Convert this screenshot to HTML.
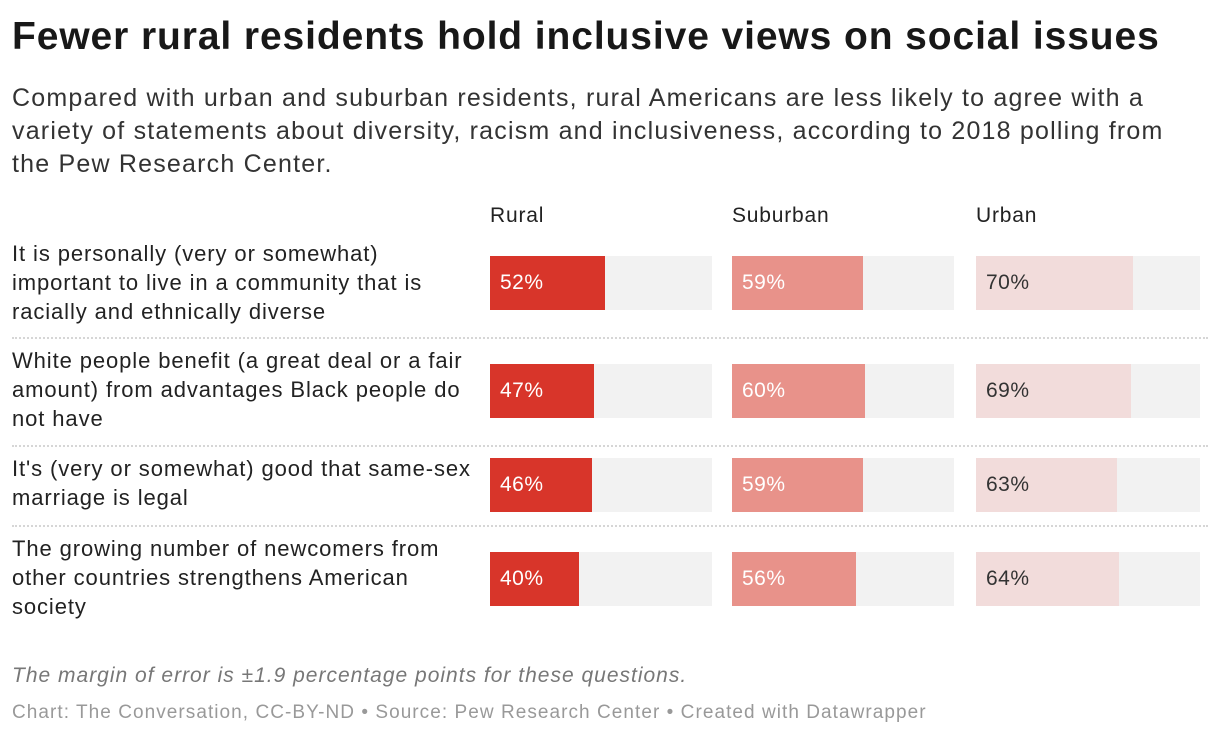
<!DOCTYPE html>
<html><head><meta charset="utf-8">
<style>
body{margin:0;width:1220px;height:738px;background:#fff;font-family:"Liberation Sans",sans-serif;color:#181818;position:relative;overflow:hidden}
.abs{position:absolute}
h1{position:absolute;left:12px;top:15px;margin:0;font-size:39px;font-weight:bold;letter-spacing:0.9px;white-space:nowrap}
.sub{left:12px;top:82px;font-size:25px;line-height:33px;color:#333;width:1210px;letter-spacing:1.2px;white-space:nowrap}
.hdr{font-size:21px;top:204px;color:#222;letter-spacing:0.8px}
.lab{left:12px;font-size:22px;line-height:29px;width:480px;color:#222;letter-spacing:0.9px;white-space:nowrap}
.sep{left:12px;width:1196px;height:0;border-top:2px dotted #d6d6d6}
.note{left:12px;top:664px;font-size:21px;font-style:italic;color:#777;letter-spacing:1px;white-space:nowrap}
.cred{left:12px;top:702px;font-size:19px;color:#999;letter-spacing:1.05px;white-space:nowrap}
</style></head><body>
<h1>Fewer rural residents hold inclusive views on social issues</h1>
<div class="abs sub">Compared with urban and suburban residents, rural Americans are less likely to agree with a<br>variety of statements about diversity, racism and inclusiveness, according to 2018 polling from<br>the Pew Research Center.</div>
<div id="chart"></div>
<div class="abs note">The margin of error is ±1.9 percentage points for these questions.</div>
<div class="abs cred">Chart: The Conversation, CC-BY-ND • Source: Pew Research Center • Created with Datawrapper</div>
<script>
const categories=["It is personally (very or somewhat)\nimportant to live in a community that is\nracially and ethnically diverse","White people benefit (a great deal or a fair\namount) from advantages Black people do\nnot have","It's (very or somewhat) good that same-sex\nmarriage is legal","The growing number of newcomers from\nother countries strengthens American\nsociety"];
const seriesNames=["Rural","Suburban","Urban"];
const rural=[52,47,46,40];
const suburban=[59,60,59,56];
const urban=[70,69,63,64];
const series=[rural,suburban,urban];
const colors=["#d8352a","#e8928a","#f2dcdb"];
const textColors=["#fff","#fff","#333"];
const colX=[490,732,976], colW=[222,222,224];
const barTop=[256,364,458,552], barH=54;
const labTop=[239,346,454,534];
const sepY=[337,445,525];
const c=document.getElementById('chart');
function x(col,v){return colW[col]*v/100;}
seriesNames.forEach((n,j)=>{
 const d=document.createElement('div');d.className='abs hdr';d.style.left=colX[j]+'px';d.textContent=n;
 
 
 c.appendChild(d);
});
categories.forEach((cat,i)=>{
 const l=document.createElement('div');l.className='abs lab';l.style.top=labTop[i]+'px';l.innerHTML=cat.split('\n').join('<br>');
 
 
 c.appendChild(l);
 series.forEach((s,j)=>{
  const t=document.createElement('div');t.className='abs';
  t.style.cssText=`left:${colX[j]}px;top:${barTop[i]}px;width:${colW[j]}px;height:${barH}px;background:#f2f2f2`;
  
  
  c.appendChild(t);
  const b=document.createElement('div');b.className='abs';
  b.style.cssText=`left:${colX[j]}px;top:${barTop[i]}px;width:${x(j,s[i])}px;height:${barH}px;background:${colors[j]}`;
  
  
  c.appendChild(b);
  const v=document.createElement('div');v.className='abs';
  v.style.cssText=`left:${colX[j]+10}px;top:${barTop[i]+15}px;font-size:21px;letter-spacing:0.5px;color:${textColors[j]}`;
  v.textContent=s[i]+'%';
  
  
  c.appendChild(v);
 });
});
sepY.forEach(y=>{
 const s=document.createElement('div');s.className='abs sep';s.style.top=y+'px';
 
 
 c.appendChild(s);
});
</script>
</body></html>
